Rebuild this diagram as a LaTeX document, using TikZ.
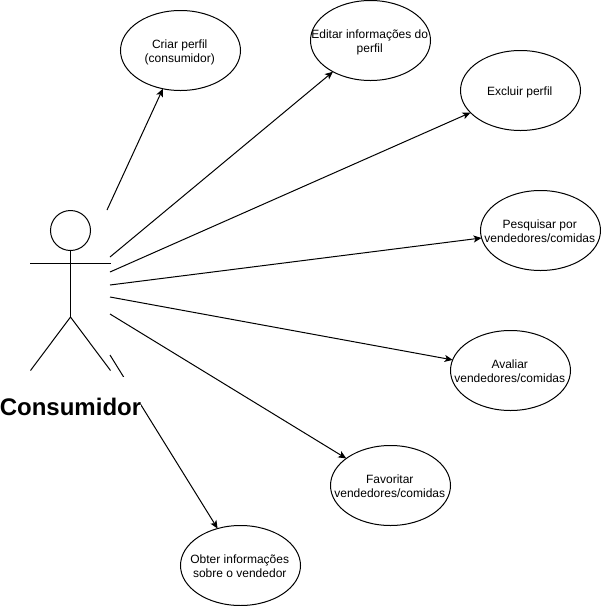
\documentclass[tikz,border=0pt]{standalone}
\usepackage{fontspec}
\setmainfont{Liberation Sans}
\usetikzlibrary{arrows.meta,shapes.geometric}
\newcommand{\uctext}[1]{\raisebox{-4.8pt}[0pt][0pt]{\makebox[0pt]{\fontsize{12}{14}\selectfont\begin{tabular}{@{}c@{}}#1\end{tabular}\hspace*{1.5pt}}}}
\tikzset{
  usecase/.style={draw=black,fill=white,ellipse,line width=1pt,minimum width=120pt,minimum height=80pt,inner sep=0pt,outer sep=0pt},
  assoc/.style={draw=black,line width=1pt,-{Stealth[length=8pt,width=7pt,inset=2pt]}},
  stick/.style={draw=black,line width=1pt},
}
\begin{document}
\begin{tikzpicture}[x=1pt,y=-1pt]
\useasboundingbox (0,0) rectangle (601,606);
\node[usecase] (criar) at (180.5,50.5) {\uctext{Criar perfil\\(consumidor)}};
\node[usecase] (editar) at (370.5,40.5) {\uctext{Editar informações do\\perfil}};
\node[usecase] (excluir) at (520.5,90.5) {\uctext{Excluir perfil}};
\node[usecase] (pesquisar) at (540.5,230.5) {\uctext{Pesquisar por\\vendedores/comidas}};
\node[usecase] (avaliar) at (510.5,370.5) {\uctext{Avaliar\\vendedores/comidas}};
\node[usecase] (favoritar) at (390.5,485.5) {\uctext{Favoritar\\vendedores/comidas}};
\node[usecase] (obter) at (240.5,565.5) {\uctext{Obter informações\\sobre o vendedor}};
% actor
\node[draw=black,line width=1pt,circle,minimum size=40pt,inner sep=0pt,outer sep=0pt] (head) at (70.5,230.5) {};
\coordinate (hip) at (70.5,317);
\coordinate (armL) at (30,263.5);
\coordinate (armR) at (110.5,263.5);
\coordinate (legL) at (30.5,370.5);
\coordinate (legR) at (110.5,370.5);
\draw[stick] (head.south) -- (hip);
\draw[stick] (armL) -- (armR);
\draw[stick] (legL) -- (hip) -- (legR);
% connector free ends
\coordinate (s1) at (107,210);
\coordinate (s2) at (110,257);
\coordinate (s3) at (110,272);
\coordinate (s4) at (110,285);
\coordinate (s5) at (110,297);
\coordinate (s6) at (110,314);
\coordinate (s7) at (110,355);
\draw[assoc] (s1) -- (criar);
\draw[assoc] (s2) -- (editar);
\draw[assoc] (s3) -- (excluir);
\draw[assoc] (s4) -- (pesquisar);
\draw[assoc] (s5) -- (avaliar);
\draw[assoc] (s6) -- (favoritar);
\draw[assoc] (s7) -- (obter);
\node[fill=white,inner xsep=0.3pt,inner ysep=0pt,minimum height=60pt,font=\bfseries\fontsize{24}{28}\selectfont] (consumidor) at (70.5,407) {Consumidor};
\end{tikzpicture}
\end{document}
